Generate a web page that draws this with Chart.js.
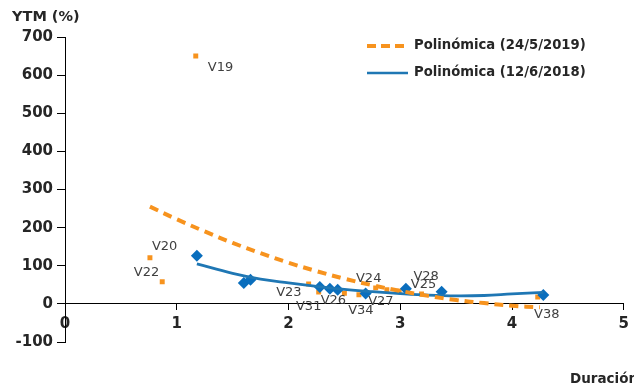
<!DOCTYPE html>
<html>
<head>
<meta charset="utf-8">
<script src="https://cdn.jsdelivr.net/npm/chart.js@4/dist/chart.umd.min.js"></script>
<style>
  html, body { margin: 0; padding: 0; background: #fff; }
  #wrap { width: 634px; height: 385px; }
</style>
</head>
<body>
<div id="wrap"><canvas id="curva"></canvas></div>
<script>
// bonos 24/5/2019 (puntos naranjas)
const bonos2019 = ['V19', 'V20', 'V22', 'V23', 'V31', 'V26', 'V34', 'V24', 'V27', 'V28', 'V25', 'V38'];
const dur2019 = [1.17, 0.76, 0.87, 2.18, 2.27, 2.50, 2.63, 2.78, 2.88, 2.99, 3.19, 4.23];
const ytm2019 = [650, 121, 58, 52, 31, 28, 24, 42, 37, 33, 26, 18];

// bonos 12/6/2018 (rombos azules)
const dur2018 = [1.18, 1.60, 1.66, 2.28, 2.37, 2.44, 2.69, 3.05, 3.37, 4.28];
const ytm2018 = [126, 55, 63, 44, 40, 37, 27, 40, 32, 23];

// lineas de tendencia
const trendX2019 = [0.76, 1.0, 1.25, 1.5, 1.75, 2.0, 2.25, 2.5, 2.75, 3.0, 3.25, 3.5, 3.75, 4.0, 4.25];
const trendY2019 = [255, 222, 190, 160, 133, 108, 86, 66, 49, 34, 21, 10, 2, -5, -9];
const trendX2018 = [1.18, 1.5, 1.75, 2.0, 2.25, 2.5, 2.75, 3.0, 3.25, 3.5, 3.75, 4.0, 4.28];
const trendY2018 = [105, 80, 65, 55, 46, 38, 32, 27, 23, 21, 22, 26, 30];

const legendNames = ['Polinómica (24/5/2019)', 'Polinómica (12/6/2018)'];
const xTitle = 'Duración';
const yTitle = 'YTM (%)';

const orange = '#F7931E';
const blue = '#1F77B4';
const diamond = '#0A6EBD';
const textColor = '#262626';

// desplazamiento de cada etiqueta respecto de su punto: [dx, dy, align]
const labelPos = [
    [12, 12, 'left'], [2, -11, 'left'], [-3, -9, 'right'], [-7, 9, 'right'],
    [-10, 15, 'center'], [-11, 7, 'center'], [2, 16, 'center'], [-7, -9, 'center'],
    [-6, 12, 'center'], [27, -15, 'center'], [2, -9, 'center'], [9, 18, 'center']
];

const toPts = (xs, ys) => xs.map((x, i) => ({ x: x, y: ys[i] }));

const extras = {
    id: 'extras',
    afterDatasetsDraw(chart) {
        const ctx = chart.ctx;
        const meta = chart.getDatasetMeta(2);
        ctx.save();
        ctx.fillStyle = '#404040';
        ctx.font = '13px "DejaVu Sans"';
        ctx.textBaseline = 'middle';
        meta.data.forEach((pt, i) => {
            const p = labelPos[i];
            ctx.textAlign = p[2];
            ctx.fillText(bonos2019[i], pt.x + p[0], pt.y + p[1]);
        });
        ctx.restore();
    },
    afterDraw(chart) {
        const ctx = chart.ctx;
        ctx.save();
        ctx.fillStyle = textColor;
        ctx.textBaseline = 'middle';
        ctx.textAlign = 'left';
        ctx.font = 'bold 14.5px "DejaVu Sans"';
        ctx.fillText(yTitle, 12, 17);
        ctx.font = 'bold 13.5px "DejaVu Sans"';
        ctx.fillText(xTitle, 570, 379);

        // leyenda
        ctx.font = 'bold 13.2px "DejaVu Sans"';
        ctx.lineCap = 'butt';
        ctx.strokeStyle = orange;
        ctx.lineWidth = 4;
        ctx.setLineDash([9, 5]);
        ctx.beginPath(); ctx.moveTo(367, 46); ctx.lineTo(406, 46); ctx.stroke();
        ctx.setLineDash([]);
        ctx.strokeStyle = blue;
        ctx.lineWidth = 2.5;
        ctx.beginPath(); ctx.moveTo(367, 73); ctx.lineTo(408, 73); ctx.stroke();
        ctx.fillText(legendNames[0], 414, 46);
        ctx.fillText(legendNames[1], 414, 73);
        ctx.restore();
    }
};

new Chart(document.getElementById('curva'), {
    type: 'scatter',
    data: {
        datasets: [
            {
                label: legendNames[0],
                data: toPts(trendX2019, trendY2019),
                showLine: true,
                borderColor: orange,
                borderWidth: 4,
                borderDash: [9, 6],
                tension: 0.4,
                pointRadius: 0,
                order: 1
            },
            {
                label: legendNames[1],
                data: toPts(trendX2018, trendY2018),
                showLine: true,
                borderColor: blue,
                borderWidth: 2.8,
                tension: 0.4,
                pointRadius: 0,
                order: 2
            },
            {
                label: '24/5/2019',
                data: toPts(dur2019, ytm2019),
                pointStyle: 'rect',
                pointRadius: 3.5,
                backgroundColor: orange,
                borderColor: orange,
                borderWidth: 0,
                order: 4
            },
            {
                label: '12/6/2018',
                data: toPts(dur2018, ytm2018),
                pointStyle: 'rectRot',
                pointRadius: 6,
                backgroundColor: diamond,
                borderColor: diamond,
                borderWidth: 0,
                order: 3
            }
        ]
    },
    options: {
        responsive: true,
        maintainAspectRatio: false,
        animation: false,
        layout: {
            padding: { left: 0, top: 37, right: 7, bottom: 43 }
        },
        plugins: {
            legend: { display: false },
            tooltip: { enabled: false }
        },
        scales: {
            x: {
                type: 'linear',
                position: { y: 0 },
                min: 0,
                max: 5,
                ticks: {
                    stepSize: 1,
                    color: textColor,
                    font: { family: 'DejaVu Sans', size: 15, weight: 'bold' },
                    padding: 5,
                    maxRotation: 0
                },
                grid: { drawOnChartArea: false, drawTicks: true, tickLength: 6, color: '#000' },
                border: { color: '#000', width: 1 }
            },
            y: {
                min: -100,
                max: 700,
                afterFit: (s) => { s.width = 65; },
                ticks: {
                    stepSize: 100,
                    color: textColor,
                    font: { family: 'DejaVu Sans', size: 15, weight: 'bold' },
                    padding: 4
                },
                grid: { drawOnChartArea: false, drawTicks: true, tickLength: 8, color: '#000' },
                border: { color: '#000', width: 1 }
            }
        }
    },
    plugins: [extras]
});
</script>
</body>
</html>
